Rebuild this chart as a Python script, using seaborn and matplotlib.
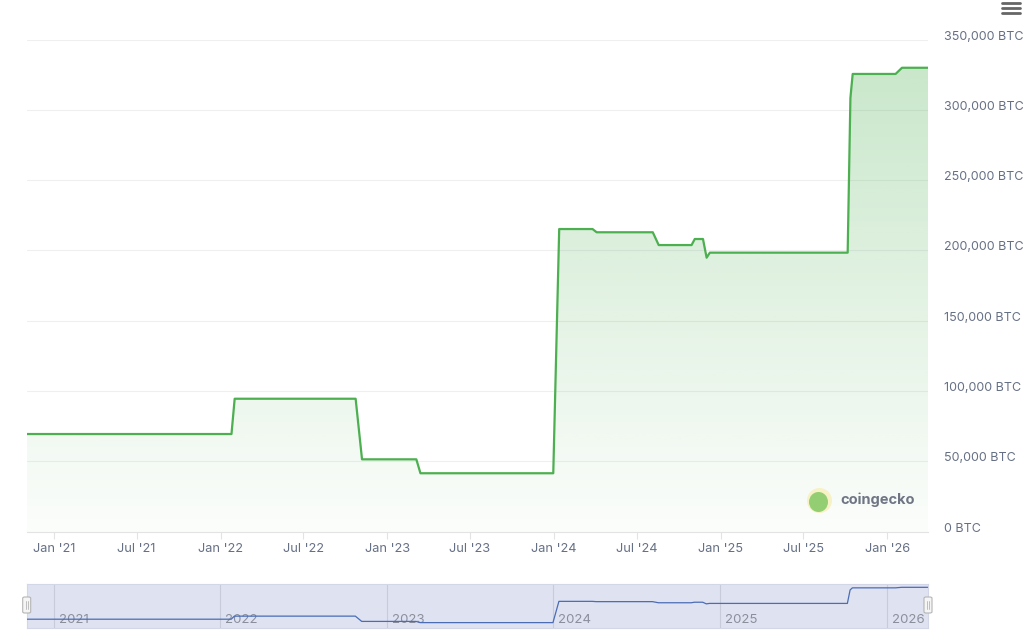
import numpy as np
import pandas as pd
import matplotlib
matplotlib.use("Agg")
import matplotlib.pyplot as plt
import matplotlib.dates as mdates
import matplotlib.transforms as mtransforms
from matplotlib.patches import Ellipse, FancyBboxPatch
from matplotlib.lines import Line2D
import seaborn as sns

# breakpoints of the holdings series (BTC)
dates = ["2020-11-03", "2022-01-25", "2022-02-01", "2022-10-24", "2022-11-07",
         "2023-03-06", "2023-03-15", "2023-12-31", "2024-01-13", "2024-03-26",
         "2024-04-04", "2024-08-05", "2024-08-18", "2024-10-29", "2024-11-05",
         "2024-11-23", "2024-12-01", "2024-12-08", "2025-10-06", "2025-10-12",
         "2025-10-17", "2026-01-19", "2026-02-02", "2026-03-31"]
btc = [69400, 69400, 94500, 94500, 51400,
       51400, 41500, 41500, 215200, 215200,
       212900, 212900, 203800, 203800, 208100,
       208100, 194800, 198400, 198400, 308400,
       325500, 325500, 329900, 329900]

ytick_values = [0, 50000, 100000, 150000, 200000, 250000, 300000, 350000]
xtick_dates = ["2021-01-01", "2021-07-01", "2022-01-01", "2022-07-01", "2023-01-01",
               "2023-07-01", "2024-01-01", "2024-07-01", "2025-01-01", "2025-07-01",
               "2026-01-01"]
xtick_labels = ["Jan '21", "Jul '21", "Jan '22", "Jul '22", "Jan '23", "Jul '23",
                "Jan '24", "Jul '24", "Jan '25", "Jul '25", "Jan '26"]
nav_years = ["2021", "2022", "2023", "2024", "2025", "2026"]

df = pd.DataFrame({"date": pd.to_datetime(dates), "btc": btc})

sns.set_theme(style="white")
plt.rcParams["font.family"] = ["Inter", "DejaVu Sans"]

W, H = 1024, 633
fig = plt.figure(figsize=(W / 100, H / 100), dpi=100)
fig.patch.set_facecolor("white")

def fx(x):
    return x / W

def fy(y):
    return 1 - y / H

label_col = "#667085"
green = "#4caf50"

# main chart
ax = fig.add_axes([fx(27), fy(531.6), fx(901), 492.1 / H])
sns.lineplot(data=df, x="date", y="btc", ax=ax, color=green, lw=1.6, zorder=3)

xnum = mdates.date2num(df["date"])
xmin, xmax = xnum[0], xnum[-1]

# gradient fill under the line
poly = ax.fill_between(xnum, df["btc"], 0, facecolor="none", lw=0)
rgb = matplotlib.colors.to_rgb(green)
grad = np.zeros((256, 1, 4))
grad[:, 0, :3] = rgb
grad[:, 0, 3] = np.linspace(0.30, 0.02, 256)
im = ax.imshow(grad, extent=[xmin, xmax, 0, max(btc)], aspect="auto",
               origin="upper", zorder=1)
im.set_clip_path(poly.get_paths()[0], transform=ax.transData)

ax.set_xlim(xmin, xmax)
ax.set_ylim(0, 350000)
ax.set_xlabel("")
ax.set_ylabel("")

ax.yaxis.tick_right()
ax.set_yticks(ytick_values)
ax.set_yticklabels([f"{v:,} BTC" for v in ytick_values])
ax.tick_params(axis="y", length=0, pad=11.5, labelsize=9, labelcolor=label_col)
plt.setp(ax.get_yticklabels(), va="baseline", ha="left")

ax.set_xticks(mdates.date2num(pd.to_datetime(xtick_dates)))
ax.set_xticklabels(xtick_labels)
ax.tick_params(axis="x", length=5, width=0.8, color="#e3e3e3", pad=3,
               labelsize=9.2, labelcolor=label_col, bottom=True)

ax.grid(axis="y", color="#efefef", lw=0.8)
ax.grid(axis="x", visible=False)
for s in ["top", "left", "right"]:
    ax.spines[s].set_visible(False)
ax.spines["bottom"].set_color("#e3e3e3")
ax.spines["bottom"].set_linewidth(0.8)

# watermark
fig.patches.append(Ellipse((fx(819.5), fy(500.5)), 25 / W, 25 / H,
                           transform=fig.transFigure, facecolor="#f7f1c6",
                           edgecolor="none", zorder=5))
fig.patches.append(Ellipse((fx(818.5), fy(502)), 19 / W, 20 / H,
                           transform=fig.transFigure, facecolor="#93cf72",
                           edgecolor="none", zorder=6))
fig.text(fx(840), fy(500), "coingecko", fontsize=10.5, fontweight="bold",
         color="#6f7584", va="center", ha="left")

# navigator
nav = fig.add_axes([fx(26.7), fy(627.7), fx(901), 43.7 / H])
nav.set_facecolor("#dfe2f1")
for s in nav.spines.values():
    s.set_color("#d3d6e6")
    s.set_linewidth(0.8)
year_nums = mdates.date2num(pd.to_datetime([y + "-01-01" for y in nav_years]))
for xn, yr in zip(year_nums, nav_years):
    nav.axvline(xn, color="#c8cbda", lw=0.8, zorder=1)
    off = mtransforms.ScaledTranslation(5 / 100, 0, fig.dpi_scale_trans)
    nav.text(xn, 0.1, yr, transform=nav.get_xaxis_transform() + off,
             fontsize=9.5, color="#8b8e9b", va="baseline", ha="left", zorder=2)
sns.lineplot(data=df, x="date", y="btc", ax=nav, color="#4a6db5", lw=0.9, zorder=3)
nav.set_xlim(xmin, xmax)
nav.set_ylim(0, 357000)
nav.set_xticks([])
nav.set_yticks([])
nav.set_xlabel("")
nav.set_ylabel("")

# navigator handles
for hx in [22.7, 924]:
    fig.patches.append(FancyBboxPatch((fx(hx), fy(613)), 8 / W, 16 / H,
                                      boxstyle="round,pad=0,rounding_size=0.002",
                                      transform=fig.transFigure, facecolor="#f5f5f5",
                                      edgecolor="#b5b5b5", lw=0.8, zorder=10))
    for dx in [3, 5]:
        fig.add_artist(Line2D([fx(hx + dx), fx(hx + dx)], [fy(601), fy(609)],
                              transform=fig.transFigure, color="#b5b5b5", lw=0.6,
                              zorder=11))

# menu icon
for yy in [3, 8, 13]:
    fig.add_artist(Line2D([fx(1002), fx(1020)], [fy(yy), fy(yy)],
                          transform=fig.transFigure, color="#666666", lw=2.0,
                          solid_capstyle="round"))

fig.savefig("out.png", dpi=100)
